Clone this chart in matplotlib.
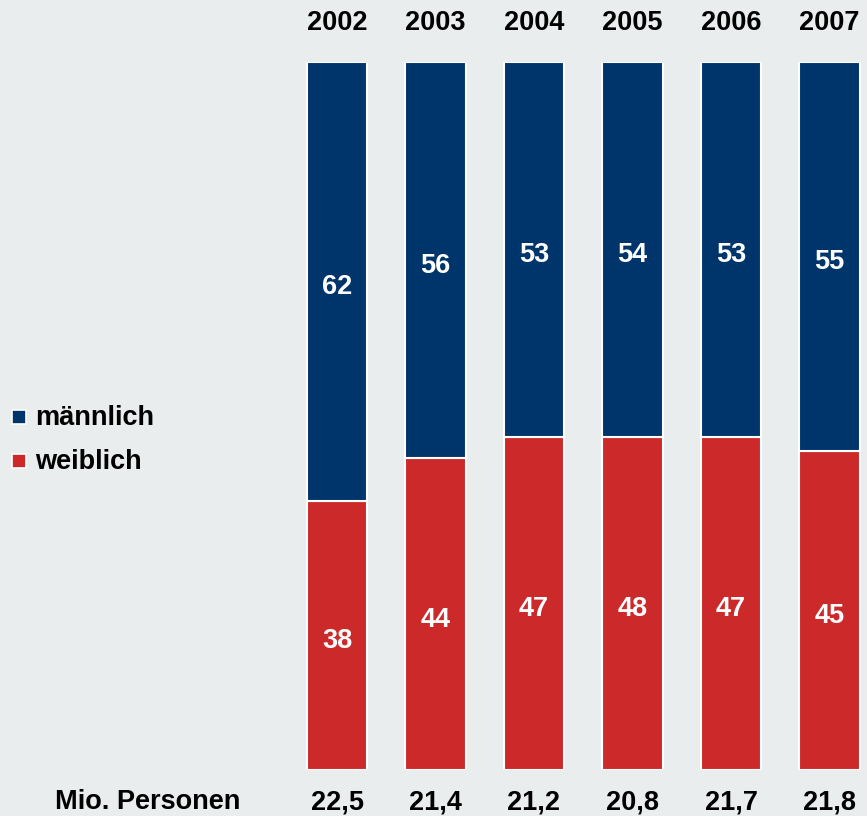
import matplotlib
matplotlib.use("Agg")
import matplotlib.pyplot as plt
from matplotlib.patches import Rectangle
from matplotlib.transforms import offset_copy
import numpy as np

plt.rcParams['font.family'] = ['Liberation Sans', 'DejaVu Sans']

years = ["2002", "2003", "2004", "2005", "2006", "2007"]
maennlich = [62, 56, 53, 54, 53, 55]
weiblich = [38, 44, 47, 48, 47, 45]
mio_personen = ["22,5", "21,4", "21,2", "20,8", "21,7", "21,8"]
series_names = ["männlich", "weiblich"]

BG = "#E9EDED"
BLUE = "#00356B"
RED = "#CC2A2A"

W, H = 867, 816
fig = plt.figure(figsize=(W / 100, H / 100), dpi=100, facecolor=BG)

left_px, right_px = 287.75, 867
top_px, bot_px = 62, 770
ax = fig.add_axes([left_px / W, 1 - bot_px / H, (right_px - left_px) / W, (bot_px - top_px) / H])
ax.set_facecolor(BG)

x = np.arange(len(years))
m = np.array(maennlich, float)
w = np.array(weiblich, float)
tot = m + w
wp = w / tot * 100
mp = m / tot * 100

bw = 0.61
ax.bar(x, wp, width=bw, color=RED, edgecolor="white", linewidth=1.5)
ax.bar(x, mp, bottom=wp, width=bw, color=BLUE, edgecolor="white", linewidth=1.5)
ax.set_xlim(-0.5, (right_px - 337) / 98.5)
ax.set_ylim(0, 100)
ax.axis("off")

fs = 19.5
down = offset_copy(ax.transData, fig=fig, x=0, y=-4, units="points")
for i in range(len(years)):
    ax.text(x[i], wp[i] / 2, str(weiblich[i]), ha="center", va="center", color="white",
            fontsize=fs, fontweight="bold", transform=down)
    ax.text(x[i], wp[i] + mp[i] / 2, str(maennlich[i]), ha="center", va="center", color="white",
            fontsize=fs, fontweight="bold", transform=down)
    ax.text(x[i], 1 + 39 / (bot_px - top_px), years[i], transform=ax.get_xaxis_transform(),
            ha="center", va="center", fontsize=fs, fontweight="bold", color="black")
    ax.text(x[i], -32 / (bot_px - top_px), mio_personen[i], transform=ax.get_xaxis_transform(),
            ha="center", va="center", fontsize=fs, fontweight="bold", color="black")

fig.text(148 / W, 1 - 802 / H, "Mio. Personen", ha="center", va="center", fontsize=fs,
         fontweight="bold", color="black")

# legend
for name, col, yc in [(series_names[0], BLUE, 417), (series_names[1], RED, 461)]:
    sq = 14
    fig.patches.append(Rectangle((12 / W, 1 - (yc + sq / 2) / H), sq / W, sq / H,
                                 transform=fig.transFigure, facecolor=col,
                                 edgecolor="white", linewidth=1.2))
    fig.text(35 / W, 1 - (yc + 1) / H, name, ha="left", va="center", fontsize=fs,
             fontweight="bold", color="black")

fig.savefig("out.png", dpi=100, facecolor=BG)
